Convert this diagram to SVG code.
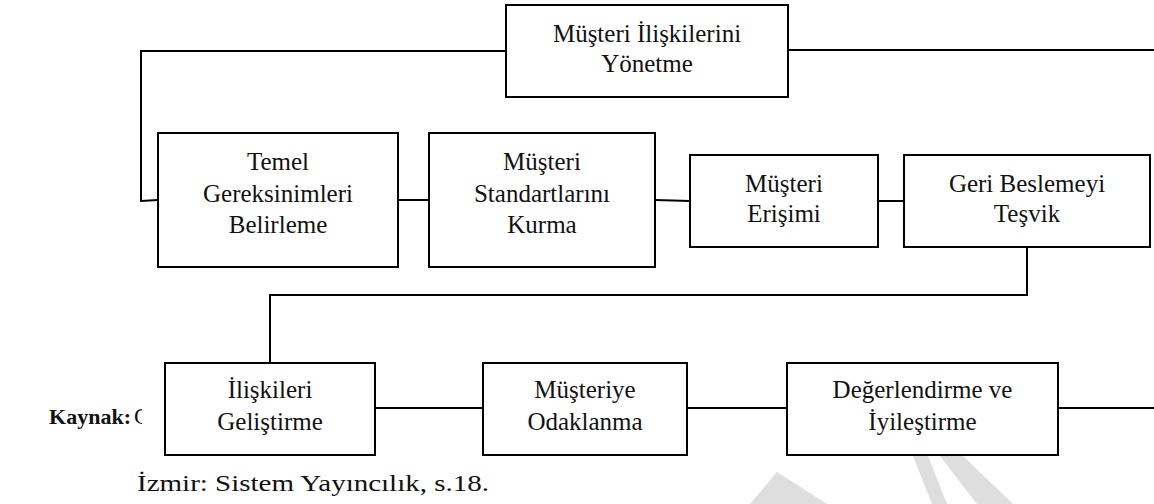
<svg xmlns="http://www.w3.org/2000/svg" width="1154" height="504" viewBox="0 0 1154 504">
<style>
.box{fill:#fff;stroke:#000;stroke-width:2}
.lbl{font-family:"Liberation Serif","Times New Roman",serif;font-size:25px;fill:#111;text-anchor:middle}
.con{fill:none;stroke:#000;stroke-width:2}
.wm{fill:#dedede}
.src{font-family:"Liberation Serif","Times New Roman",serif;fill:#111}
</style>
<rect width="1154" height="504" fill="#fff"/>
<g id="watermark">
<polygon class="wm" points="750,504 777,472 827,504"/>
<polygon class="wm" points="913,456 928,456 947,504 932,504"/>
<polygon class="wm" points="940,456 963,456 1013,504 977,504"/>
</g>
<g id="source">
<text class="src" x="131" y="424" font-size="22" font-weight="bold" text-anchor="end">Kaynak:</text>
<text class="src" x="134" y="424" font-size="23">C</text>
<rect x="142" y="400" width="22" height="30" fill="#fff"/>
<text class="src" x="137" y="491" font-size="24" textLength="352" lengthAdjust="spacingAndGlyphs">İzmir: Sistem Yayıncılık,  s.18.</text>
</g>
<g id="connectors">
<path class="con" d="M506,51 H141 V201 L158,200"/>
<path class="con" d="M788,50 H1154"/>
<path class="con" d="M398,200 H429"/>
<path class="con" d="M655,200 L690,201"/>
<path class="con" d="M878,201 H904"/>
<path class="con" d="M1027,247 V295 H270 V363"/>
<path class="con" d="M375,408 H483"/>
<path class="con" d="M687,408 H787"/>
<path class="con" d="M1058,408 H1154"/>
</g>
<g id="n-yonetme">
<rect class="box" x="506" y="5" width="282" height="92"/>
<text class="lbl" x="647" y="42">Müşteri İlişkilerini</text>
<text class="lbl" x="647" y="72">Yönetme</text>
</g>
<g id="n-temel">
<rect class="box" x="158" y="133" width="240" height="134"/>
<text class="lbl" x="278" y="170">Temel</text>
<text class="lbl" x="278" y="201.5">Gereksinimleri</text>
<text class="lbl" x="278" y="233">Belirleme</text>
</g>
<g id="n-standart">
<rect class="box" x="429" y="133" width="226" height="134"/>
<text class="lbl" x="542" y="170">Müşteri</text>
<text class="lbl" x="542" y="201.5">Standartlarını</text>
<text class="lbl" x="542" y="233">Kurma</text>
</g>
<g id="n-erisim">
<rect class="box" x="690" y="155" width="188" height="92"/>
<text class="lbl" x="784" y="192">Müşteri</text>
<text class="lbl" x="784" y="222">Erişimi</text>
</g>
<g id="n-geri">
<rect class="box" x="904" y="155" width="246" height="92"/>
<text class="lbl" x="1027" y="192">Geri Beslemeyi</text>
<text class="lbl" x="1027" y="222">Teşvik</text>
</g>
<g id="n-iliski">
<rect class="box" x="165" y="363" width="210" height="92"/>
<text class="lbl" x="270" y="398">İlişkileri</text>
<text class="lbl" x="270" y="430">Geliştirme</text>
</g>
<g id="n-odak">
<rect class="box" x="483" y="363" width="204" height="92"/>
<text class="lbl" x="585" y="398">Müşteriye</text>
<text class="lbl" x="585" y="430">Odaklanma</text>
</g>
<g id="n-deger">
<rect class="box" x="787" y="363" width="271" height="92"/>
<text class="lbl" x="922.5" y="398">Değerlendirme ve</text>
<text class="lbl" x="922.5" y="430">İyileştirme</text>
</g>
</svg>
